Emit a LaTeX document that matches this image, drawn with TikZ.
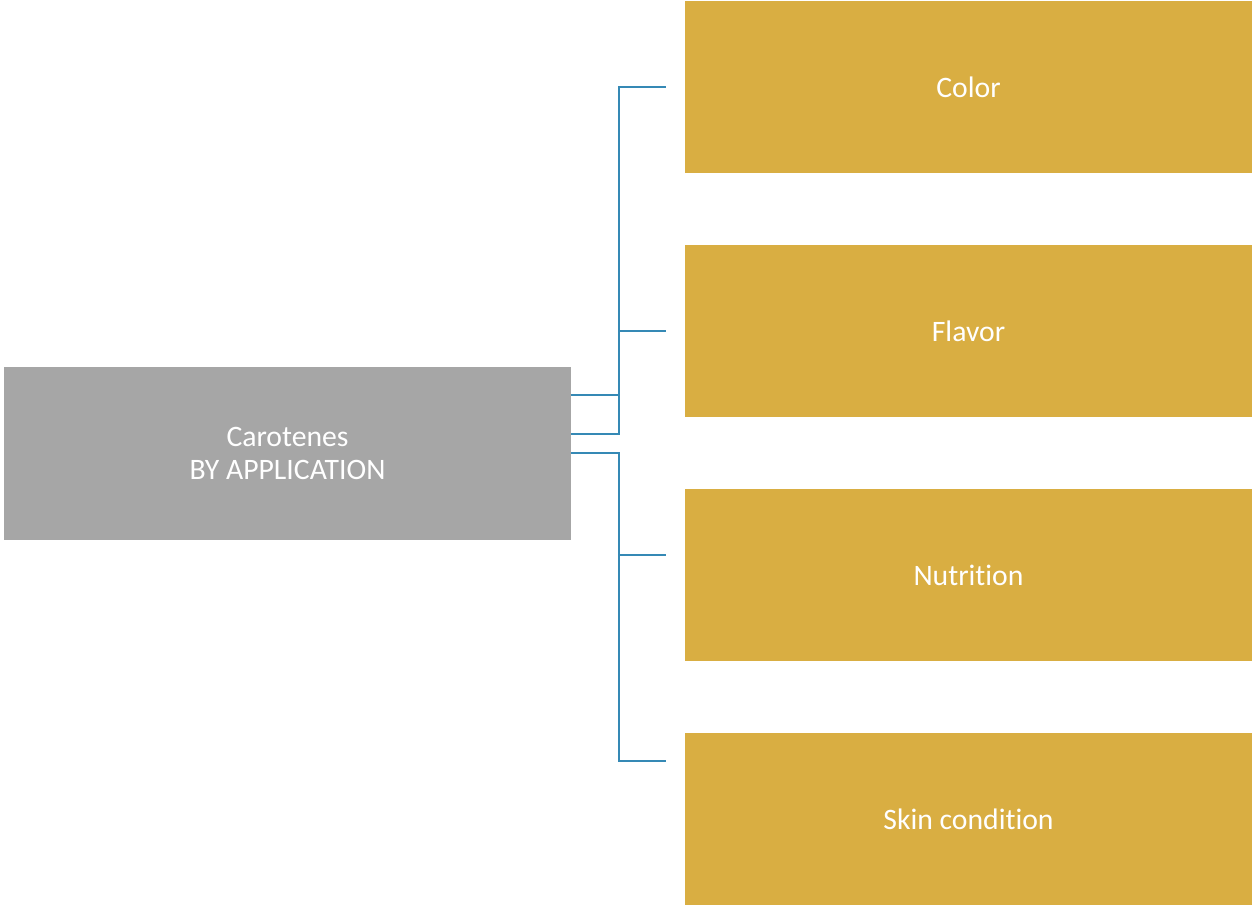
\documentclass[tikz,border=0pt]{standalone}
\usepackage{fontspec}
\setmainfont{Carlito}[Ligatures=NoCommon]
\definecolor{goldbox}{HTML}{D9AE42}
\definecolor{greybox}{HTML}{A6A6A6}
\definecolor{linkblue}{HTML}{3589B5}
\begin{document}
\begin{tikzpicture}[x=0.02cm,y=0.02cm]
        \tikzstyle{every node}+=[inner sep=0pt, text=white, font=\fontsize{16.9}{18.7}\selectfont, align=center]
        \tikzstyle{rootbox}=[fill=greybox, minimum width=11.34cm, minimum height=3.46cm]
        \tikzstyle{appbox}=[fill=goldbox, minimum width=11.34cm, minimum height=3.44cm]
        \tikzstyle{link}=[draw=linkblue, line width=1.1pt]
        \useasboundingbox (0,0) rectangle (1253,-905);
        \node [rootbox] (root) at (287.5,-453.5) {Carotenes\\BY APPLICATION};
        \node [appbox] (color) at (968.5,-87) {Color};
        \node [appbox] (flavor) at (968.5,-331) {Flavor};
        \node [appbox] (nutrition) at (968.5,-575) {Nutrition};
        \node [appbox] (skin) at (968.5,-819) {Skin condition};
        \draw [link] (root.east |- 0,-395) -- (619,-395) |- ([xshift=-0.38cm]color.west);
        \draw [link] (root.east |- 0,-434) -- (619,-434) |- ([xshift=-0.38cm]flavor.west);
        \draw [link] (root.east |- 0,-453) -- (619,-453) |- ([xshift=-0.38cm]nutrition.west |- 0,-555);
        \draw [link] (root.east |- 0,-453) -- (619,-453) |- ([xshift=-0.38cm]skin.west |- 0,-761);
\end{tikzpicture}
\end{document}
